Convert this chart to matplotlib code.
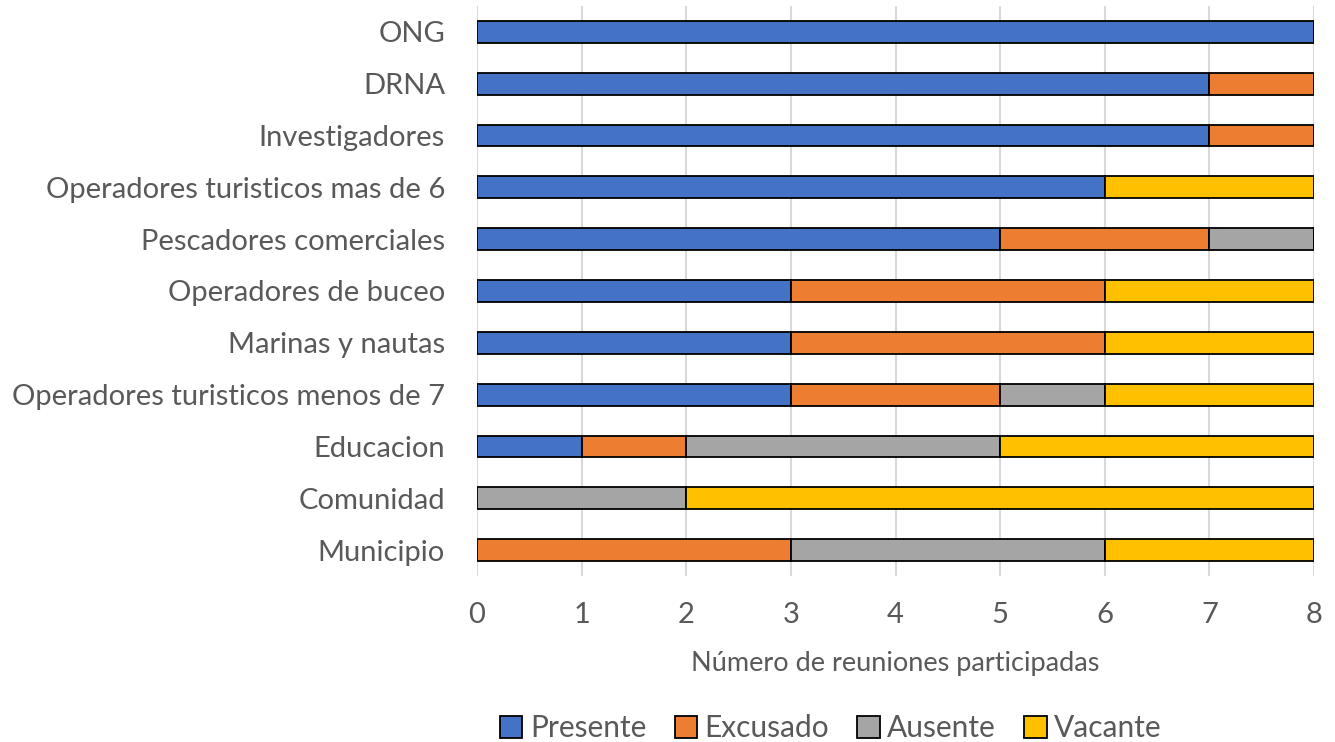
import matplotlib
matplotlib.use("Agg")
import matplotlib.pyplot as plt
import numpy as np

categories = ["ONG", "DRNA", "Investigadores", "Operadores turisticos mas de 6",
              "Pescadores comerciales", "Operadores de buceo", "Marinas y nautas",
              "Operadores turisticos menos de 7", "Educacion", "Comunidad", "Municipio"]
presente = [8, 7, 7, 6, 5, 3, 3, 3, 1, 0, 0]
excusado = [0, 1, 1, 0, 2, 3, 3, 2, 1, 0, 3]
ausente  = [0, 0, 0, 0, 1, 0, 0, 1, 3, 2, 3]
vacante  = [0, 0, 0, 2, 0, 2, 2, 2, 3, 6, 2]
series_names = ["Presente", "Excusado", "Ausente", "Vacante"]
colors = ["#4472C4", "#ED7D31", "#A5A5A5", "#FFC000"]

plt.rcParams['font.family'] = ['Lato', 'DejaVu Sans']
txt = "#595959"

fig = plt.figure(figsize=(13.35, 7.42), dpi=100)
ax = fig.add_axes([477/1335, 1-576/742, (1314-477)/1335, 570/742])

y = np.arange(len(categories))
left = np.zeros(len(categories))
for vals, name, c in zip([presente, excusado, ausente, vacante], series_names, colors):
    vals = np.array(vals, dtype=float)
    ax.barh(y, vals, left=left, height=0.42, color=c, edgecolor="black",
            linewidth=1.3, label=name, zorder=3)
    left += vals

ax.set_ylim(len(categories)-0.5, -0.5)
ax.set_xlim(0, 8)
ax.set_xticks(range(0, 9))
ax.set_yticks(y)
ax.set_yticklabels(categories, fontsize=21, color=txt)
ax.tick_params(axis='x', labelsize=21, colors=txt, length=0, pad=19)
ax.tick_params(axis='y', length=0, pad=23)
ax.grid(axis='x', color="#D9D9D9", linewidth=1.5, zorder=0)
for s in ax.spines.values():
    s.set_visible(False)
ax.set_xlabel("Número de reuniones participadas", fontsize=19.5, color=txt, labelpad=16)

leg = fig.legend(loc="center", bbox_to_anchor=(831/1335, 1-728/742), ncol=4, frameon=False,
                 fontsize=21.5, handlelength=0.75, handleheight=0.75, handletextpad=0.25,
                 columnspacing=0.95)
for t in leg.get_texts():
    t.set_color(txt)

fig.savefig("out.png", dpi=100)
